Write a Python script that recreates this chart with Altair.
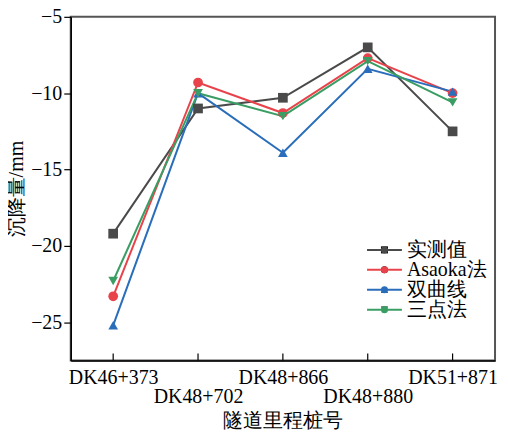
import altair as alt
import pandas as pd

categories = ["DK46+373", "DK48+702", "DK48+866", "DK48+880", "DK51+871"]
series_names = ["实测值", "Asaoka法", "双曲线", "三点法"]
measured = [-19.2, -11.0, -10.3, -7.0, -12.5]
asaoka = [-23.3, -9.3, -11.3, -7.7, -10.0]
hyperbola = [-25.2, -10.0, -13.9, -8.4, -9.9]
three_point = [-22.3, -10.0, -11.5, -7.9, -10.6]
colors = ["#4a4a4a", "#e8434b", "#2a6ebb", "#3a9e64"]
shapes = ["square", "circle", "triangle-up", "triangle-down"]
y_ticks = [-25, -20, -15, -10, -5]

rows = []
for name, vals in zip(series_names, [measured, asaoka, hyperbola, three_point]):
    for i, (c, v) in enumerate(zip(categories, vals)):
        rows.append({"cat": c, "series": name, "value": v, "order": i})
df = pd.DataFrame(rows)
tick_df = pd.DataFrame({"cat": categories})

FONT = "Liberation Serif"
low_labels = categories[1::2]
label_expr = "indexof(" + str(low_labels) + ", datum.label) >= 0 ? ['', datum.label] : datum.label"

x_enc = alt.X("cat:N", sort=categories, title="隧道里程桩号",
              scale=alt.Scale(type="point", padding=0.5),
              axis=alt.Axis(labelAngle=0, labelAlign="center", labelBaseline="top",
                            ticks=False, tickSize=0, labelPadding=7,
                            labelExpr=label_expr, labelLineHeight=19,
                            labelFontSize=20, titleFontSize=20, titlePadding=4,
                            labelFont=FONT, titleFont=FONT, labelColor="black",
                            titleColor="black", titleFontWeight="normal",
                            domainColor="black", domainWidth=1.5, grid=False,
                            labelOverlap=False, labelFlush=False))
y_enc = alt.Y("value:Q", title="沉降量/mm",
              scale=alt.Scale(domain=[-27.5, -5], nice=False, zero=False),
              axis=alt.Axis(values=y_ticks, tickSize=7, tickColor="black", tickWidth=1.2,
                            labelPadding=2, labelFontSize=20, titleFontSize=20,
                            labelFont=FONT, titleFont=FONT, labelColor="black",
                            titleColor="black", titleFontWeight="normal", titlePadding=4,
                            domainColor="black", domainWidth=1.5, grid=False))

color_scale = alt.Scale(domain=series_names, range=colors)

LX, LY = 305, 224
lines = alt.Chart(df).mark_line(strokeWidth=2).encode(
    x=x_enc, y=y_enc,
    order="order:O",
    color=alt.Color("series:N", scale=color_scale, sort=series_names,
                    legend=alt.Legend(title=None, orient="none", legendX=LX, legendY=LY,
                                      symbolType="M-4.375,0H4.375", symbolSize=64,
                                      symbolStrokeWidth=2, padding=0, rowPadding=-0.5,
                                      labelFont=FONT, labelFontSize=20, labelColor="black",
                                      labelOffset=12.5)),
)

leg2 = alt.Legend(title=None, orient="none", legendX=LX, legendY=LY,
                  symbolSize=50, padding=0, rowPadding=-0.5, symbolStrokeWidth=0,
                  labelFont=FONT, labelFontSize=20, labelOpacity=0, labelOffset=12.5)
points = alt.Chart(df).mark_point(filled=True, size=95, opacity=1).encode(
    x=alt.X("cat:N", sort=categories), y="value:Q",
    color=alt.Color("series:N", scale=color_scale, sort=series_names, legend=leg2),
    shape=alt.Shape("series:N", scale=alt.Scale(domain=series_names, range=shapes),
                    sort=series_names, legend=leg2),
)

ticks = alt.Chart(tick_df).mark_rule(color="black", strokeWidth=1.2).encode(
    x=alt.X("cat:N", sort=categories),
    y=alt.value(345), y2=alt.value(338),
)

chart = alt.layer(ticks, lines, points).resolve_scale(color="independent").properties(
    width=426, height=345,
    padding={"left": 63, "top": 8, "right": 5, "bottom": 72},
    autosize=alt.AutoSizeParams(type="none"),
    background="white",
).configure(font=FONT).configure_view(stroke="#555555", strokeWidth=2)

chart.save("out.html", embed_options={"renderer": "svg", "actions": False})
